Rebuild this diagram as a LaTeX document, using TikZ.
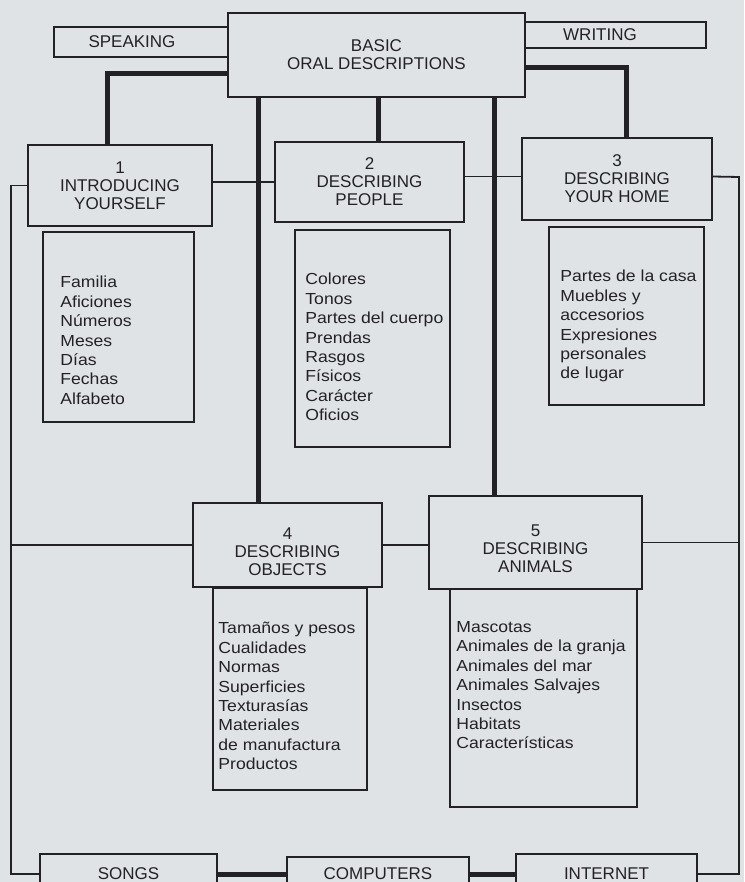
\documentclass[tikz,border=0pt]{standalone}
\usepackage{fontspec}
\setmainfont{Liberation Sans}
\newfontfamily\listfam[FakeStretch=1.1]{Liberation Sans}
\usetikzlibrary{positioning, calc}
\definecolor{paper}{RGB}{224,227,229}
\definecolor{ink}{RGB}{34,34,38}

\begin{document}
\begin{tikzpicture}[x=1pt, y=-1pt,
  topic/.style={rectangle, draw=ink, line width=1.6pt,
    inner sep=0pt, align=center, text=ink,
    font=\fontsize{17}{18}\selectfont},
  tab/.style={rectangle, draw=ink, line width=1.6pt,
    inner sep=0pt, text=ink, font=\fontsize{17}{18}\selectfont},
  listbox/.style={rectangle, draw=ink, line width=1.6pt, inner sep=0pt},
  listtxt/.style={inner sep=0pt, align=left, text=ink,
    font=\listfam\fontsize{16}{19.4}\selectfont},
  trunk/.style={ink, line width=5pt},
  twig/.style={ink, line width=1.8pt}
]
\clip (0,0) rectangle (744,882);
\fill[paper] (0,0) rectangle (744,882);

% Centre and side tabs
\node[topic, minimum width=297pt, minimum height=84pt] (basic)
  at (376.5,55) {BASIC\\ORAL DESCRIPTIONS};
\node[tab, minimum width=174pt, minimum height=30pt] (speaking)
  at (141,42) {SPEAKING\kern18pt};
\node[tab, minimum width=181pt, minimum height=26pt] (writing)
  at (615.5,35) {WRITING\kern31pt};

% Units 1-3
\node[topic, minimum width=184pt, minimum height=81pt] (intro)
  at (120,185.5) {1\\INTRODUCING\\YOURSELF};
\node[topic, minimum width=189pt, minimum height=80pt] (people)
  at (369.5,182) {2\\DESCRIBING\\PEOPLE};
\node[topic, minimum width=190pt, minimum height=82pt] (home)
  at (617,179) {3\\DESCRIBING\\YOUR HOME};

% Units 4-5
\node[topic, minimum width=189pt, minimum height=84pt, text height=61pt] (objects)
  at (287.5,545) {4\\DESCRIBING\\OBJECTS};
\node[topic, minimum width=213pt, minimum height=93pt, text height=61pt] (animals)
  at (535.5,542.5) {5\\DESCRIBING\\ANIMALS};

% Vocabulary lists
\node[listbox, minimum width=151pt, minimum height=190pt] (famlist)
  at (118.5,327) {};
\node[listtxt, below right=45pt and 18pt of famlist.north west] (famtxt)
  {Familia\\Aficiones\\Números\\Meses\\Días\\Fechas\\Alfabeto};

\node[listbox, minimum width=155pt, minimum height=217pt] (peoplelist)
  at (372.5,338.5) {};
\node[listtxt, below right=44pt and 11pt of peoplelist.north west] (peopletxt)
  {Colores\\Tonos\\Partes del cuerpo\\Prendas\\Rasgos\\Físicos\\Carácter\\Oficios};

\node[listbox, minimum width=155pt, minimum height=178pt] (homelist)
  at (626.5,316) {};
\node[listtxt, below right=44pt and 12pt of homelist.north west] (hometxt)
  {Partes de la casa\\Muebles y\\accesorios\\Expresiones\\personales\\de lugar};

\node[listbox, minimum width=154pt, minimum height=202pt] (objlist)
  at (290,689) {};
\node[listtxt, below right=35pt and 6pt of objlist.north west] (objtxt)
  {Tamaños y pesos\\Cualidades\\Normas\\Superficies\\Texturasías\\Materiales\\de manufactura\\Productos};

\node[listbox, minimum width=187pt, minimum height=218pt] (animlist)
  at (543.5,698) {};
\node[listtxt, below right=33pt and 7pt of animlist.north west] (animtxt)
  {Mascotas\\Animales de la granja\\Animales del mar\\Animales Salvajes\\Insectos\\Habitats\\Características};

% Media row
\node[tab, minimum width=177pt, minimum height=40pt] (songs)
  at (128.5,874) {SONGS};
\node[tab, minimum width=182pt, minimum height=34pt] (computers)
  at (378,874) {COMPUTERS};
\node[tab, minimum width=181pt, minimum height=40pt] (internet)
  at (606.5,874) {INTERNET};

% Thick links
\draw[trunk] ([yshift=-19pt]basic.west) -| ([xshift=-13pt]intro.north);
\draw[trunk] ([xshift=-118.5pt]basic.south) -- ([xshift=-118.5pt]basic.south |- objects.north);
\draw[trunk] ([xshift=1.5pt]basic.south) -- ([xshift=1.5pt]basic.south |- people.north);
\draw[trunk] ([xshift=117.5pt]basic.south) -- ([xshift=117.5pt]basic.south |- animals.north);
\draw[trunk] ([yshift=-13pt]basic.east) -| ([xshift=9pt]home.north);
\draw[trunk] (songs.east) -- (computers.west);
\draw[trunk] (computers.east) -- (internet.west);

% Thin links
\coordinate (lrail) at (11,187);
\coordinate (rrail) at (739,177);
\draw[twig] (people.west -| intro.east) -- (people.west);
\draw[twig] ([yshift=2.5pt]home.west -| people.east) -- ([yshift=2.5pt]home.west);
\draw[twig] (intro.west) -- (intro.west -| lrail) |- (songs.west);
\draw[twig] (objects.west) -- (objects.west -| lrail);
\draw[twig] (objects.east) -- (objects.east -| animals.west);
\draw[twig] ([yshift=2.5pt]home.east) -- (rrail) |- (internet.east);
\draw[twig] (animals.east) -- (animals.east -| rrail);
\end{tikzpicture}
\end{document}
